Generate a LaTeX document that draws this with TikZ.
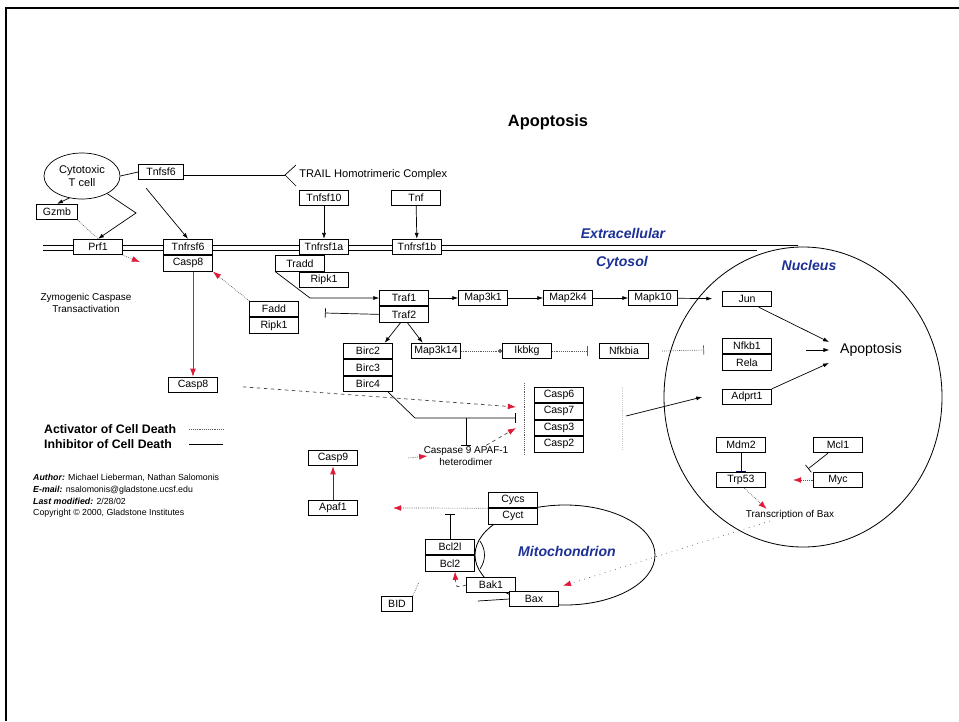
\documentclass[tikz,border=0pt]{standalone}
\usepackage{fontspec}
\setmainfont{Liberation Sans}
\usetikzlibrary{shapes.geometric, arrows.meta, positioning}

\definecolor{regionblue}{RGB}{28,48,150}
\definecolor{tipred}{RGB}{222,28,58}
\definecolor{brownred}{RGB}{150,60,40}

\begin{document}
\begin{tikzpicture}[x=0.03cm, y=-0.03cm,
        gene/.style = {
            rectangle,
            draw,
            fill=white,
            line width=0.6pt,
            font = \fontsize{9}{10}\selectfont,
            minimum width=1.47cm,
            minimum height=0.47cm,
            inner sep=1pt
        },
        note/.style = {font=\fontsize{8.5}{10}\selectfont, align=center, inner sep=1pt},
        region/.style = {font=\fontsize{12}{14}\selectfont\bfseries\itshape, text=regionblue},
        activate/.style = {-{Latex[length=5pt, width=3.5pt]}, line width=0.6pt},
        inhibit/.style = {-{Bar[width=8pt]}, line width=0.6pt},
        dot_line/.style = {densely dotted, line width=0.6pt, draw=gray!70!black},
        red_tip/.style = {dot_line, -{Latex[length=7pt, width=5pt, color=tipred]}},
        red_dash/.style = {dashed, line width=0.6pt, draw=gray!55!black, -{Latex[length=7pt, width=5pt, color=tipred]}},
        red_solid/.style = {line width=0.7pt, draw=gray!40!black, -{Latex[length=7pt, width=5pt, color=tipred]}}
    ]

    \useasboundingbox (0,0) rectangle (959,721);
    \draw[line width=1.5pt] (6,721) -- (6,8) -- (959,8);

    \node (title) [font=\fontsize{14}{16}\selectfont\bfseries] at (548,122) {Apoptosis};

    % compartments
    \draw[line width=0.6pt] (43,245) -- (798,245);
    \draw[line width=0.6pt] (43,250) -- (757,250);
    \draw[line width=0.7pt] (803,397) ellipse [x radius=4.17cm, y radius=4.5cm];
    \draw[line width=0.7pt] (565,555) ellipse [x radius=2.7cm, y radius=1.5cm];
    \draw[line width=0.6pt] (480,541) .. controls (486,550) and (486,560) .. (480,569);
    \draw[dot_line] (524,383) -- (524,455);
    \draw[dot_line, draw=gray!40] (622,387) -- (622,450);

    \node (extracellular) [region] at (623,233) {Extracellular};
    \node (cytosol) [region] at (622,263) {Cytosol};
    \node (nucleus) [region] at (809,265) {Nucleus};
    \node (mitochondrion) [region] at (567,551) {Mitochondrion};

    \node (tcell) [ellipse, draw, line width=0.6pt, minimum width=2.28cm, minimum height=1.38cm, inner sep=0pt, align=center, font=\fontsize{9.5}{11}\selectfont] at (82,176) {Cytotoxic\\T cell};
    \node (tnfsf6) [gene, minimum width=1.35cm] at (161,172) {Tnfsf6};
    \coordinate (fork) at (285,175);
    \coordinate (fork_up) at (296,165);
    \coordinate (fork_down) at (296,186);
    \node (trail) [note, anchor=west, font=\fontsize{9.5}{11}\selectfont] at (298,175) {TRAIL Homotrimeric Complex};
    \node (gzmb) [gene, minimum width=1.23cm] at (57,212) {Gzmb};
    \node (prf1) [gene] at (98,247) {Prf1};
    \node (tnfrsf6) [gene] at (188,247) {Tnfrsf6};
    \node (casp8_top) [gene, below=0pt of tnfrsf6] {Casp8};
    \node (tnfsf10) [gene] at (324,198) {Tnfsf10};
    \node (tnf) [gene] at (416,198) {Tnf};
    \node (tnfrsf1a) [gene] at (324,247) {Tnfrsf1a};
    \node (tnfrsf1b) [gene] at (417,247) {Tnfrsf1b};
    \node (tradd) [gene, below=0pt of tnfrsf1a, xshift=-0.72cm] {Tradd};
    \node (ripk1_top) [gene, below=0pt of tradd, xshift=0.72cm] {Ripk1};
    \node (zymogenic) [note] at (86,303) {Zymogenic Caspase\\Transactivation};
    \node (fadd) [gene] at (274,309) {Fadd};
    \node (ripk1_low) [gene, below=0pt of fadd] {Ripk1};

    \node (traf1) [gene] at (404,298) {Traf1};
    \node (traf2) [gene, below=0pt of traf1] {Traf2};
    \node (map3k1) [gene] at (483,298) {Map3k1};
    \node (map2k4) [gene] at (568,298) {Map2k4};
    \node (mapk10) [gene] at (653,298) {Mapk10};
    \node (jun) [gene] at (747,299) {Jun};
    \node (birc2) [gene] at (368,351) {Birc2};
    \node (birc3) [gene, below=0pt of birc2] {Birc3};
    \node (birc4) [gene, below=0pt of birc3] {Birc4};
    \node (map3k14) [gene] at (436,351) {Map3k14};
    \node (ikbkg) [gene] at (527,351) {Ikbkg};
    \node (nfkbia) [gene] at (624,351) {Nfkbia};
    \node (nfkb1) [gene] at (747,346) {Nfkb1};
    \node (rela) [gene, below=0pt of nfkb1] {Rela};
    \node (adprt1) [gene] at (747,397) {Adprt1};
    \node (apoptosis) [font=\fontsize{12}{14}\selectfont] at (871,350) {Apoptosis};

    \node (casp8_low) [gene] at (193,385) {Casp8};
    \node (casp6) [gene] at (559,395) {Casp6};
    \node (casp7) [gene, below=0pt of casp6] {Casp7};
    \node (casp3) [gene, below=0pt of casp7] {Casp3};
    \node (casp2) [gene, below=0pt of casp3] {Casp2};
    \node (hetero) [note] at (466,456) {Caspase 9 APAF-1\\heterodimer};
    \node (casp9) [gene] at (333,458) {Casp9};
    \node (apaf1) [gene] at (333,508) {Apaf1};
    \node (cycs) [gene] at (513,500) {Cycs};
    \node (cyct) [gene, below=0pt of cycs] {Cyct};
    \node (bcl2l) [gene] at (450,547) {Bcl2l};
    \node (bcl2) [gene, below=0pt of bcl2l] {Bcl2};
    \node (bak1) [gene] at (491,585) {Bak1};
    \node (bax) [gene] at (534,599) {Bax};
    \node (bid) [gene, minimum width=0.93cm] at (397,604) {BID};

    \node (mdm2) [gene] at (741,445) {Mdm2};
    \node (trp53) [gene] at (741,480) {Trp53};
    \node (mcl1) [gene] at (838,445) {Mcl1};
    \node (myc) [gene] at (838,480) {Myc};
    \node (trbax) [note] at (790,515) {Transcription of Bax};

    \node (activator) [anchor=west, font=\fontsize{10.5}{12}\selectfont\bfseries] at (40,429) {Activator of Cell Death};
    \node (inhibitor) [anchor=west, font=\fontsize{10.5}{12}\selectfont\bfseries] at (40,444) {Inhibitor of Cell Death};
    \node (credits) [anchor=north west, align=left, inner sep=0pt, font=\fontsize{7.5}{10}\selectfont] at (33,474)
        {\textbf{\textit{Author:}} Michael Lieberman, Nathan Salomonis\\
         \textbf{\textit{E-mail:}} nsalomonis@gladstone.ucsf.edu\\
         \textbf{\textit{Last modified:}} 2/28/02\\
         Copyright \textcopyright{} 2000, Gladstone Institutes};

    \coordinate (prf_bend) at (136,213);
    \coordinate (perf_end) at (140,262);
    \coordinate (tradd_bend) at (310,298);
    \coordinate (traf2_bar) at (325,313);
    \coordinate (ikbkg_bar) at (588,351);
    \coordinate (nfkb_bar) at (704,350);
    \coordinate (birc_bend) at (415,418);
    \coordinate (casp_bar) at (516,418);
    \coordinate (casp_in_top) at (516,407);
    \coordinate (casp_in_low) at (516,428);
    \coordinate (het_join) at (466,418);
    \coordinate (cyt_end) at (393,508);
    \coordinate (bcl2_bar) at (450,514);
    \coordinate (bid_end) at (419,582);
    \coordinate (bax_in) at (478,601);
    \coordinate (adprt_start) at (626,416);
    \coordinate (myc_end) at (793,480);

    \draw[line width=0.6pt] (tcell.east) -- (tnfsf6.west);
    \draw[line width=0.6pt] (tnfsf6.east |- fork) -- (fork);
    \draw[line width=0.6pt] (fork_up) -- (fork) -- (fork_down);
    \draw[activate] (tcell.240) -- (gzmb.north);
    \draw[activate] (tcell.-35) -- (prf_bend) -- (prf1.north);
    \draw[dot_line] (gzmb.south east) -- (prf1.north);
    \draw[red_tip] (prf1.south east) -- (perf_end);
    \draw[activate] ([shift={(8,8)}]tnfsf6.south west) -- (tnfrsf6.north);
    \draw[activate] (tnfsf10) -- (tnfrsf1a);
    \draw[activate] (tnf) -- (tnfrsf1b);
    \draw[activate] (tradd.south west) -- (tradd_bend) -- (traf1.west);
    \draw[red_tip] (fadd.north west) -- (casp8_top.south east);
    \draw[line width=0.7pt, draw=brownred, -{Latex[length=7pt, width=5pt, color=tipred]}] (casp8_low.north |- casp8_top.south) -- (casp8_low.north);
    \draw[inhibit] (traf2.west) -- (traf2_bar);
    \draw[activate] (traf1.east) -- (map3k1.west);
    \draw[activate] (map3k1) -- (map2k4);
    \draw[activate] (map2k4) -- (mapk10);
    \draw[activate, shorten >=0.3cm] (mapk10) -- (jun);
    \draw[activate] ([xshift=-0.1cm]traf2.south) -- ([xshift=0.5cm]birc2.north);
    \draw[activate] ([xshift=0.1cm]traf2.south) -- ([xshift=-0.4cm]map3k14.north);
    \draw[dot_line, -{Circle[length=3.5pt]}] (map3k14) -- (ikbkg);
    \draw[dot_line, -{Bar[width=8pt]}] (ikbkg.east) -- (ikbkg_bar);
    \draw[dot_line, -{Bar[width=8pt]}] ([xshift=0.4cm]nfkbia.east) -- (nfkb_bar);
    \draw[activate] ([xshift=0.35cm]jun.south) -- ([shift={(-7,-8)}]apoptosis.west);
    \draw[activate] ([xshift=-0.9cm]apoptosis.west) -- ([xshift=-0.2cm]apoptosis.west);
    \draw[activate] (adprt1.north east) -- ([shift={(-7,13)}]apoptosis.west);
    \draw[activate] (adprt_start) -- ([xshift=-0.6cm]adprt1.west);

    \draw[red_dash, shorten <=0.75cm] (casp8_low.east) -- (casp_in_top);
    \draw[inhibit] ([xshift=0.6cm]birc4.south) -- (birc_bend) -- (casp_bar);
    \draw[inhibit] (het_join) -- (hetero.north);
    \draw[red_dash] ([xshift=-0.7cm]hetero.north east) -- (casp_in_low);
    \draw[red_tip] ([xshift=1.5cm]casp9.east) -- ([xshift=0.15cm]hetero.west);
    \draw[red_solid] (apaf1.north) -- (casp9.south);
    \draw[red_tip] (cycs.south west) -- (cyt_end);
    \draw[inhibit] (bcl2l.north) -- (bcl2_bar);
    \draw[red_dash] (bak1.west) .. controls (456,588) .. ([xshift=0.15cm]bcl2.south);
    \draw[dot_line] (bid.north east) -- (bid_end);
    \draw[line width=0.6pt] (bax_in) -- (bax.west);
    \draw[red_tip, loosely dotted] ([xshift=-0.6cm]trbax.south) -- ([shift={(4,-5)}]bax.north east);

    \draw[inhibit, draw=blue!30!black] (mdm2) -- (trp53);
    \draw[inhibit] ([xshift=-0.3cm]mcl1.south) -- ([shift={(-5,-3)}]myc.north west);
    \draw[red_tip] (myc.west) -- (myc_end);
    \draw[red_tip] ([xshift=0.1cm]trp53.south) -- ([xshift=-0.7cm]trbax.north);

    \draw[dot_line] ([xshift=0.27cm]activator.east) -- ++(1.02cm,0);
    \draw[line width=0.6pt] ([xshift=0.4cm]inhibitor.east) -- ++(1.02cm,0);
\end{tikzpicture}
\end{document}
